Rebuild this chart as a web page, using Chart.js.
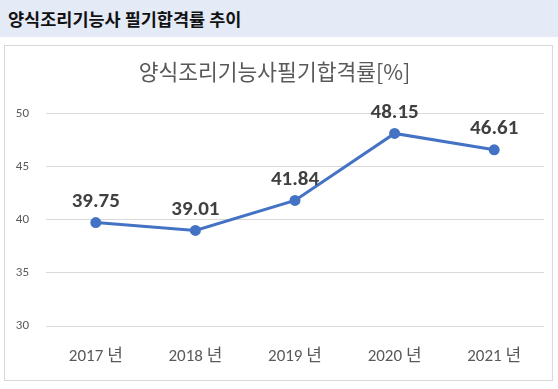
<!DOCTYPE html>
<html>
<head>
<meta charset="utf-8">
<script src="https://cdn.jsdelivr.net/npm/chart.js@4/dist/chart.umd.min.js"></script>
<style>
  html, body { margin:0; padding:0; background:#fff; width:558px; height:389px; overflow:hidden; }
  #head {
    position:absolute; left:0; top:0; width:558px; height:37px;
    background:#e4eaf6;
    font-family:"Noto Sans CJK KR", "Noto Sans", sans-serif;
    font-weight:700; font-size:17.5px; color:#111;
    line-height:37px; padding-left:8px; box-sizing:border-box;
  }
  #box {
    position:absolute; left:4px; top:45px; width:549px; height:336px;
    border:1px solid #d9d9d9; box-sizing:border-box;
  }
  #box canvas { display:block; }
</style>
</head>
<body>
<div id="head">양식조리기능사 필기합격률 추이</div>
<div id="box"><canvas id="c" width="547" height="334"></canvas></div>
<script>
  // chart data
  const years = ['2017 년', '2018 년', '2019 년', '2020 년', '2021 년'];
  const passRate = [39.75, 39.01, 41.84, 48.15, 46.61];
  const yTicks = [30, 35, 40, 45, 50];

  const FONT = 'Calibri, Carlito, "Noto Sans", "Noto Sans CJK KR", sans-serif';

  // value labels above each point
  const valueLabels = {
    id: 'valueLabels',
    afterDatasetsDraw(chart) {
      const ctx = chart.ctx;
      const meta = chart.getDatasetMeta(0);
      ctx.save();
      ctx.font = 'bold 21px ' + FONT;
      ctx.fillStyle = '#404040';
      ctx.textAlign = 'center';
      ctx.textBaseline = 'middle';
      meta.data.forEach((pt, i) => {
        ctx.fillText(passRate[i].toFixed(2), pt.x, pt.y - 21);
      });
      ctx.restore();
    }
  };

  new Chart(document.getElementById('c'), {
    type: 'line',
    data: {
      labels: years,
      datasets: [{
        data: passRate,
        borderColor: '#4472c4',
        backgroundColor: '#4472c4',
        borderWidth: 3,
        pointRadius: 4,
        pointHoverRadius: 4,
        tension: 0
      }]
    },
    options: {
      responsive: false,
      animation: false,
      layout: { padding: { top: 0, right: 8, bottom: 0, left: 0 } },
      plugins: {
        legend: { display: false },
        tooltip: { enabled: false },
        title: {
          display: true,
          text: '양식조리기능사필기합격률[%]',
          color: '#595959',
          font: { family: '"Noto Sans CJK KR", sans-serif', size: 21.5, weight: 'normal' },
          padding: { top: 13, bottom: 29 }
        }
      },
      scales: {
        x: {
          offset: true,
          afterFit(s) { s.height = 54; },
          grid: { display: false, drawTicks: false },
          border: { display: false },
          ticks: {
            color: '#595959',
            font: { family: FONT, size: 17 },
            padding: 21
          }
        },
        y: {
          min: 30,
          max: 50,
          afterBuildTicks(s) { s.ticks = yTicks.map(v => ({ value: v })); },
          afterFit(s) { s.width = 41; },
          grid: { color: '#d9d9d9', drawTicks: false },
          border: { display: false },
          ticks: {
            color: '#595959',
            font: { family: FONT, size: 13 },
            padding: 17
          }
        }
      }
    },
    plugins: [valueLabels]
  });
</script>
</body>
</html>
